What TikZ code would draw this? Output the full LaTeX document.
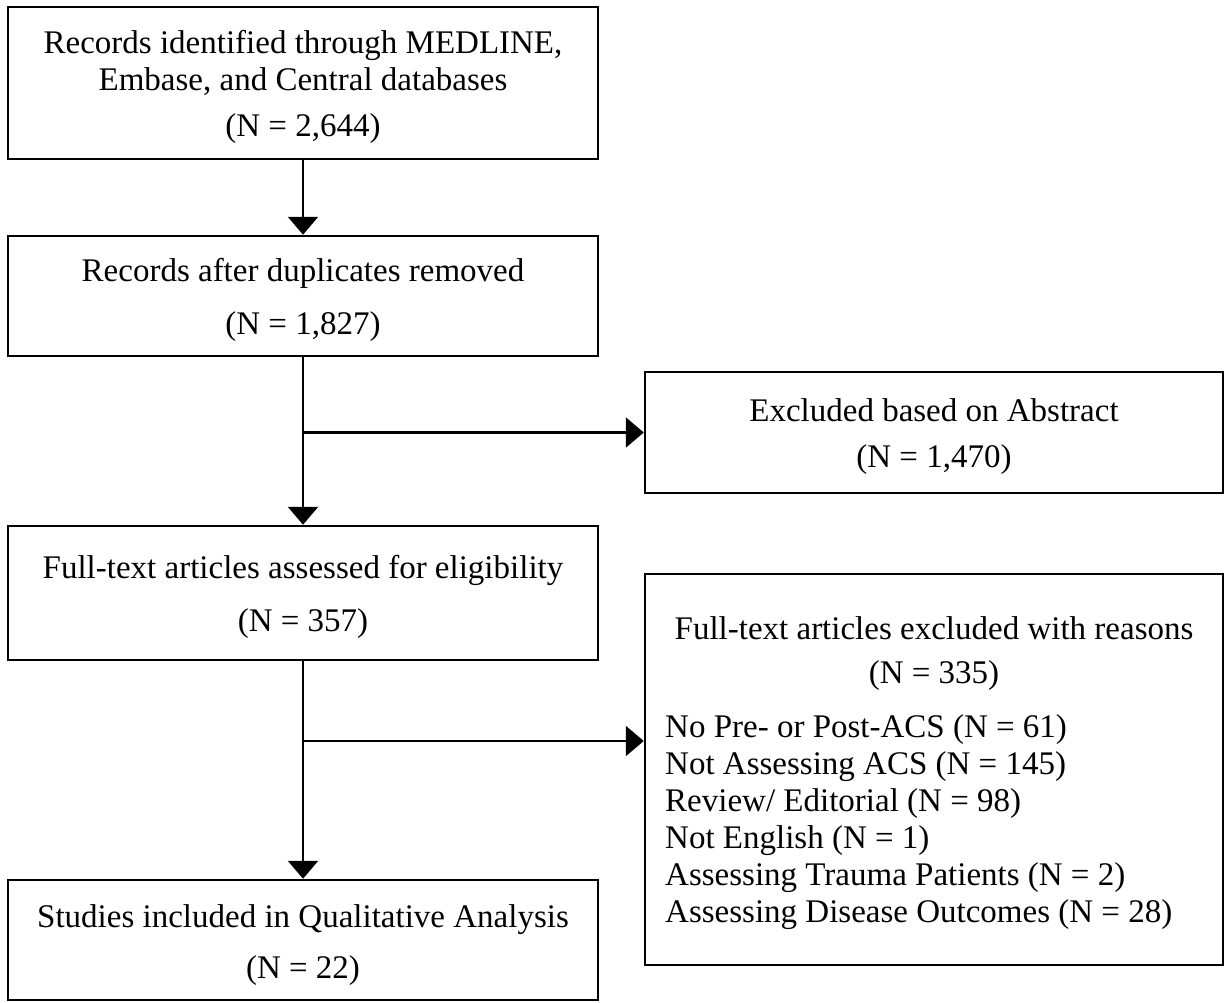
\documentclass[tikz,border=0pt]{standalone}
\usepackage{fontspec}
\setmainfont{Liberation Serif}
\usetikzlibrary{arrows.meta}
\newcommand{\topstrut}{\rule{0pt}{32pt}}

\begin{document}
\begin{tikzpicture}[x=1pt, y=-1pt, font=\fontsize{33}{37}\selectfont,
  box/.style={draw, line width=2.5pt, rectangle, align=center, inner sep=0pt},
  arr/.style={line width=2.5pt, -{Triangle[length=18pt, width=30pt]}}]
\useasboundingbox (0, 0) rectangle (1225, 1002);

\node [box, minimum width=590, minimum height=152] (rec) at (303, 83) {\topstrut Records identified through MEDLINE,\\Embase, and Central databases\\[9pt](N = 2,644)};
\node [box, minimum width=590, minimum height=120] (dup) at (303, 296) {\topstrut Records after duplicates removed\\[16pt](N = 1,827)};
\node [box, minimum width=590, minimum height=134] (full) at (303, 593) {\topstrut Full-text articles assessed for eligibility\\[16pt](N = 357)};
\node [box, minimum width=590, minimum height=120] (incl) at (303, 940) {\topstrut Studies included in Qualitative Analysis\\[14pt](N = 22)};

\node [box, minimum width=578, minimum height=121] (abs) at (934, 432.5) {\topstrut Excluded based on Abstract\\[9pt](N = 1,470)};
\node [draw, line width=2.5pt, minimum width=578, minimum height=391] (excl) at (934, 769.5) {};
\node [align=center, inner sep=0pt] (exclhead) at (934, 654) {Full-text articles excluded with reasons\\[7pt](N = 335)};
\node [align=left, anchor=west, inner sep=0pt] (excllist) at (665, 822) {No Pre- or Post-ACS (N = 61)\\Not Assessing ACS (N = 145)\\Review/ Editorial (N = 98)\\Not English (N = 1)\\Assessing Trauma Patients (N = 2)\\Assessing Disease Outcomes (N = 28)};

% main flow
\draw [arr] (rec.south) -- (dup.north);
\draw [arr] (dup.south) -- (full.north);
\draw [arr] (full.south) -- (incl.north);

% exclusions
\draw [arr] (dup.south |- abs.west) -- (abs.west);
\coordinate (split) at (303, 741);
\draw [arr] (split) -- (split -| excl.west);
\end{tikzpicture}
\end{document}
